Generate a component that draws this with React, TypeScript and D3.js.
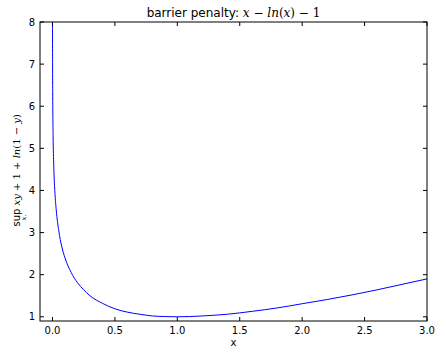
import { useMemo } from 'react';
import * as d3 from 'd3';

// values
const xValues = [0.0003, 0.0005, 0.001, 0.002, 0.005, 0.01, 0.02, 0.03, 0.05, 0.075, 0.1, 0.15, 0.2, 0.25, 0.3, 0.4, 0.5, 0.6, 0.7, 0.8, 0.9, 1.0, 1.1, 1.2, 1.4, 1.6, 1.8, 2.0, 2.2, 2.4, 2.6, 2.8, 3.0];
const yValues = [8.11, 7.60, 6.91, 6.22, 5.30, 4.61, 3.93, 3.54, 3.05, 2.66, 2.40, 2.05, 1.81, 1.64, 1.50, 1.32, 1.19, 1.11, 1.06, 1.02, 1.005, 1.0, 1.005, 1.02, 1.06, 1.13, 1.21, 1.31, 1.41, 1.52, 1.64, 1.77, 1.90];
const xTicks = [0.0, 0.5, 1.0, 1.5, 2.0, 2.5, 3.0];
const yTicks = [1, 2, 3, 4, 5, 6, 7, 8];

const W = 436;
const H = 347;
const margin = { left: 40, right: 9, top: 22, bottom: 26 };

export default function App() {
  const innerW = W - margin.left - margin.right;
  const innerH = H - margin.top - margin.bottom;

  const x = useMemo(() => d3.scaleLinear().domain([-0.1, 3.0]).range([0, innerW]), [innerW]);
  const y = useMemo(() => d3.scaleLinear().domain([0.9, 8]).range([innerH, 0]), [innerH]);

  const points = xValues.map((v, i) => [v, yValues[i]] as [number, number]);
  const line = d3.line<[number, number]>()
    .x((d) => x(d[0]))
    .y((d) => y(d[1]))
    .curve(d3.curveMonotoneX);

  const tickLen = 4;
  const sans = 'DejaVu Sans, sans-serif';
  const serif = 'DejaVu Serif, serif';

  return (
    <svg width={W} height={H} style={{ position: 'absolute', left: 0, top: 0, background: '#fff' }}>
      <defs>
        <clipPath id="plot-clip">
          <rect x={0} y={0} width={innerW} height={innerH} />
        </clipPath>
      </defs>
      <g transform={`translate(${margin.left},${margin.top})`}>
        {/* curve */}
        <path d={line(points) || ''} fill="none" stroke="#0000ff" strokeWidth={1} clipPath="url(#plot-clip)" />

        {/* frame */}
        <rect x={0} y={0} width={innerW} height={innerH} fill="none" stroke="#000" strokeWidth={1} />

        {/* x ticks, inward on bottom and top */}
        {xTicks.map((t) => (
          <g key={`xt-${t}`}>
            <line x1={x(t)} x2={x(t)} y1={innerH} y2={innerH - tickLen} stroke="#000" />
            <line x1={x(t)} x2={x(t)} y1={0} y2={tickLen} stroke="#000" />
            <text x={x(t)} y={innerH + 12.5} textAnchor="middle" fontFamily={sans} fontSize={10}>
              {t.toFixed(1)}
            </text>
          </g>
        ))}

        {/* y ticks, inward on left and right */}
        {yTicks.map((t) => (
          <g key={`yt-${t}`}>
            <line x1={0} x2={tickLen} y1={y(t)} y2={y(t)} stroke="#000" />
            <line x1={innerW} x2={innerW - tickLen} y1={y(t)} y2={y(t)} stroke="#000" />
            <text x={-5} y={y(t)} dy="0.35em" textAnchor="end" fontFamily={sans} fontSize={10}>
              {t}
            </text>
          </g>
        ))}

        {/* x label */}
        <text x={innerW / 2} y={innerH + 24.5} textAnchor="middle" fontFamily={sans} fontSize={10}>x</text>

        {/* title */}
        <text x={innerW / 2} y={-5} textAnchor="middle" fontSize={12}>
          <tspan fontFamily={sans}>barrier penalty: </tspan>
          <tspan fontFamily={serif} fontStyle="italic">x</tspan>
          <tspan fontFamily={serif}> − </tspan>
          <tspan fontFamily={serif} fontStyle="italic">ln</tspan>
          <tspan fontFamily={serif}>(</tspan>
          <tspan fontFamily={serif} fontStyle="italic">x</tspan>
          <tspan fontFamily={serif}>) − 1</tspan>
        </text>
      </g>

      {/* y label */}
      <g transform={`translate(20,${margin.top + innerH / 2 + 1}) rotate(-90)`}>
        <text x={-45} y={0} textAnchor="middle" fontFamily={sans} fontSize={10}>sup</text>
        <text x={-45} y={6} textAnchor="middle" fontFamily={serif} fontStyle="italic" fontSize={7}>x.</text>
        <text x={-33} y={0} textAnchor="start" fontFamily={serif} fontStyle="italic" fontSize={10}>
          xy<tspan fontStyle="normal"> + 1 + </tspan>ln<tspan fontStyle="normal">(1 − </tspan>y<tspan fontStyle="normal">)</tspan>
        </text>
      </g>
    </svg>
  );
}
